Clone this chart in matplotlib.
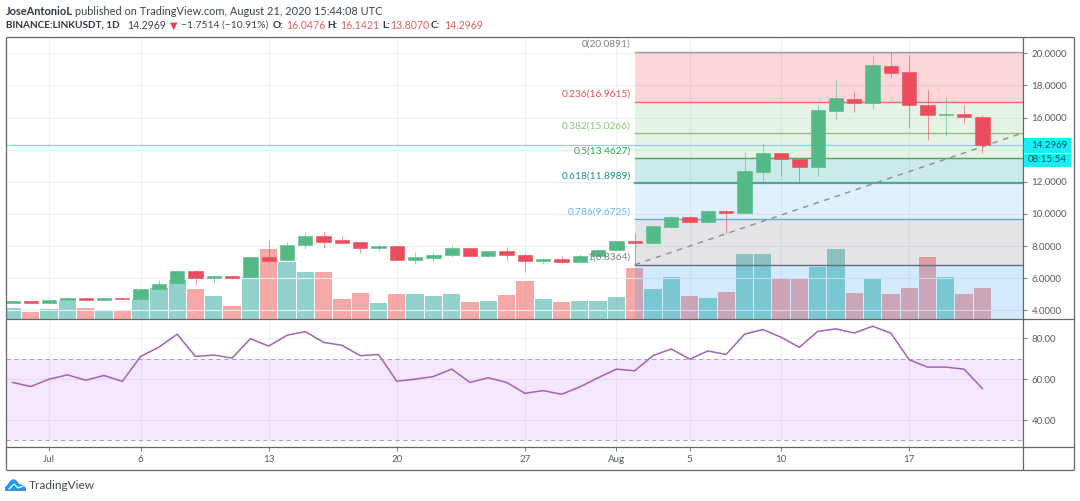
import numpy as np
from matplotlib import pyplot as plt
from matplotlib.patches import Polygon, Rectangle

WIDTH, HEIGHT = 1080, 501

opens = [4.48, 4.56, 4.48, 4.65, 4.77, 4.65, 4.77, 4.69, 5.33, 5.68, 6.47, 6.00, 6.14, 6.06, 7.30, 7.12, 8.07, 8.61,
         8.36, 8.26, 7.90, 8.03, 7.16, 7.28, 7.43, 7.88, 7.39, 7.68, 7.45, 7.05, 7.20, 6.99, 7.39, 7.74, 8.30, 8.22,
         9.21, 9.81, 9.48, 10.19, 10.06, 12.63, 13.78, 13.44, 12.95, 16.43, 17.16, 16.93, 19.21, 18.82, 16.76, 16.18,
         16.20, 16.0476]
closes = [4.56, 4.48, 4.67, 4.77, 4.67, 4.77, 4.68, 5.35, 5.66, 6.45, 6.00, 6.12, 6.04, 7.30, 7.10, 8.09, 8.61, 8.28,
          8.22, 7.90, 8.03, 7.16, 7.30, 7.47, 7.88, 7.39, 7.68, 7.43, 7.05, 7.20, 6.99, 7.39, 7.76, 8.30, 8.19, 9.25,
          9.81, 9.48, 10.19, 10.06, 12.66, 13.78, 13.44, 12.95, 16.47, 17.20, 16.93, 19.27, 18.80, 16.80, 16.16, 16.22,
          16.05, 14.2969]
highs = [4.58, 4.58, 4.73, 4.83, 4.80, 4.79, 4.79, 5.38, 5.87, 6.54, 6.52, 6.18, 6.22, 7.32, 8.38, 8.28, 8.88, 8.88,
         8.63, 8.28, 8.13, 8.07, 7.66, 7.61, 8.07, 7.90, 7.72, 7.93, 7.55, 7.26, 7.39, 7.49, 7.80, 8.34, 8.84, 9.29,
         9.87, 9.87, 10.25, 10.25, 13.88, 14.40, 13.80, 13.46, 16.78, 18.34, 17.66, 19.83, 20.0891, 19.90, 17.72, 17.30,
         16.78, 16.1421]
lows = [4.46, 4.46, 4.46, 4.63, 4.65, 4.63, 4.66, 4.65, 5.31, 5.66, 5.58, 5.64, 5.93, 6.04, 7.03, 7.10, 7.80, 7.90,
        8.20, 7.55, 7.72, 7.14, 6.89, 7.03, 7.34, 7.37, 7.35, 7.05, 6.39, 6.89, 6.97, 6.97, 7.35, 7.70, 6.8364, 8.18,
        9.11, 9.42, 9.42, 8.80, 10.00, 11.87, 12.39, 12.05, 12.39, 15.89, 16.33, 16.51, 18.44, 15.37, 14.61, 14.88,
        15.64, 13.807]
# volume has no scale in the picture, so these are relative heights
volume = [11.3, 7.3, 10, 17.7, 10.7, 7.7, 9, 19.7, 31, 39, 29.7, 23, 12.7, 41.7, 70, 57.3, 47.3, 47.3,
          20, 26, 16, 25.3, 25.3, 23, 25.3, 17, 17.7, 24.3, 38, 20, 17, 17.7, 17.7, 22, 51.3, 29.7,
          42, 23, 21, 27, 65, 65, 41.3, 40.3, 52.3, 70, 26, 41.3, 25, 31, 62, 42, 25, 31]
volume_up = [1, 0, 1, 1, 0, 1, 0, 1, 1, 1, 0, 1, 0, 1, 0, 1, 1, 0,
             0, 0, 1, 0, 1, 1, 1, 0, 1, 0, 0, 1, 0, 1, 1, 1, 0, 1,
             1, 0, 1, 0, 1, 1, 0, 0, 1, 1, 0, 1, 0, 0, 0, 1, 0, 0]
rsi = [58.4, 56.4, 60, 62.1, 59.5, 61.8, 58.9, 71.1, 75.7, 82, 71.1, 71.8, 70.3, 79.8, 76.2, 81.5, 83.3, 78,
       76.6, 71.5, 72.1, 59, 60, 61.3, 64.9, 58.4, 60.7, 58.4, 53.1, 54.4, 52.6, 56.2, 60.7, 64.9, 64.1, 71.5,
       74.8, 69.8, 73.8, 72.1, 82, 84.3, 80.5, 75.6, 83.4, 84.6, 82.6, 85.9, 82.5, 69.5, 65.9, 65.9, 64.9, 55.4]

date_ticks = [2, 7, 14, 21, 28, 33, 37, 42, 49]
date_labels = ["Jul", "6", "13", "20", "27", "Aug", "5", "10", "17"]
price_ticks = [4, 6, 8, 10, 12, 14, 16, 18, 20]
rsi_ticks = [40, 60, 80]

fib_ratios = ["0", "0.236", "0.382", "0.5", "0.618", "0.786", "1"]
fib_prices = [20.0891, 16.9615, 15.0266, 13.4627, 11.8989, 9.6725, 6.8364]
fib_lines = ["#9b9ba3", "#ef6a6a", "#8fbf80", "#4e9f62", "#4aa6a0", "#64a8e0", "#5d6b80"]
fib_text = ["#808080", "#e05050", "#8cc07c", "#3f9b55", "#1f8f88", "#64b5f6", "#808080"]
fib_fills = ["#f23645", "#81c784", "#81c784", "#009688", "#64b5f6", "#787b86", "#2196f3"]

last_price = 14.2969
trend_end = 15.05
FIB_START = 34

UP = "#53b987"
DOWN = "#eb4d5c"
GRID = "#eef0f3"
TICK = "#555b66"
FONT = "Lato"

# bar 0 sits at x=12.5 px, one bar is 18.3 px
X_LIM = ((5.5 - 12.5) / 18.3, (1023 - 12.5) / 18.3)
idx = np.arange(len(closes))


def px_axes(left, top, right, bottom, **kwargs):
    return fig.add_axes([left / WIDTH, 1 - bottom / HEIGHT, (right - left) / WIDTH, (bottom - top) / HEIGHT], **kwargs)


def style_pane(ax):
    ax.set_xlim(*X_LIM)
    for spine in ax.spines.values():
        spine.set_visible(False)
    ax.yaxis.tick_right()
    ax.tick_params(axis="y", length=3, width=0.7, color="#777777", labelcolor=TICK, labelsize=7, pad=3)
    ax.tick_params(axis="x", length=3, width=0.7, color="#777777", labelcolor=TICK, labelsize=7, pad=2.5)


plt.rcParams["font.family"] = [FONT, "DejaVu Sans"]
fig = plt.figure(figsize=(WIDTH / 100, HEIGHT / 100), dpi=100)

# volume goes underneath so the fib fills tint it
ax_vol = px_axes(5.5, 37, 1023, 319, zorder=1)
style_pane(ax_vol)
ax_vol.set_ylim(0, 282)
ax_vol.set_xticks(date_ticks, labels=[])
ax_vol.tick_params(axis="x", length=0)
ax_vol.set_yticks([])
ax_vol.bar(idx, volume, width=0.94, zorder=3, linewidth=0,
           color=["#26a69a" if up else "#ef5350" for up in volume_up], alpha=0.5)
ax_vol.grid(axis="x", color=GRID, linewidth=0.8, zorder=0)

ax_price = px_axes(5.5, 37, 1023, 319, zorder=2)
style_pane(ax_price)
ax_price.patch.set_visible(False)
ax_price.set_ylim(3.46, 21.02)
ax_price.set_xticks([])
# the 14 label is hidden behind the last price box in the reference
ax_price.set_yticks(price_ticks, labels=[f"{p:.4f}" if p != 14 else "" for p in price_ticks])
ax_price.grid(axis="y", color=GRID, linewidth=0.8, zorder=0)
ax_price.set_axisbelow(True)

# fib retracement zones, the last one runs down to the pane bottom
zone_edges = fib_prices + [ax_price.get_ylim()[0]]
for i, fill in enumerate(fib_fills):
    ax_price.add_patch(Rectangle((FIB_START, zone_edges[i + 1]), X_LIM[1] - FIB_START, zone_edges[i] - zone_edges[i + 1],
                                 facecolor=fill, alpha=0.2, linewidth=0, zorder=1))
for ratio, price, line, text in zip(fib_ratios, fib_prices, fib_lines, fib_text):
    lw = 1.6 if ratio == "0.618" else 1.0
    ax_price.plot([FIB_START, X_LIM[1]], [price, price], color=line, linewidth=lw, zorder=2)
    ax_price.annotate(f"{ratio}({price:.4f})", (FIB_START, price), xytext=(-3, 5.5), textcoords="offset points",
                      ha="right", va="center", color=text, fontsize=7.3, zorder=6)

ax_price.plot([FIB_START, X_LIM[1]], [fib_prices[-1], trend_end], color="#8a8d94", linewidth=1, linestyle=(0, (4, 4)), zorder=3)
ax_price.axhline(last_price, color="#5fe6e6", linewidth=0.9, zorder=3)

# candles
colors = [UP if c >= o else DOWN for o, c in zip(opens, closes)]
ax_price.vlines(idx, lows, highs, colors=colors, linewidth=0.6, alpha=0.7, zorder=4)
ax_price.bar(idx, np.array(closes) - np.array(opens), bottom=opens, width=0.78, color=colors,
             edgecolor=colors, linewidth=0.4, zorder=5)

ax_rsi = px_axes(5.5, 319, 1023, 447, zorder=1)
style_pane(ax_rsi)
ax_rsi.set_ylim(26.8, 89.45)
ax_rsi.set_xticks(date_ticks, labels=date_labels)
ax_rsi.set_yticks(rsi_ticks, labels=[f"{r:.2f}" for r in rsi_ticks])
ax_rsi.grid(color=GRID, linewidth=0.8, zorder=0)
ax_rsi.set_axisbelow(True)
ax_rsi.axhspan(30, 70, facecolor="#9915ff", alpha=0.1, linewidth=0, zorder=1)
for level in (30, 70):
    ax_rsi.axhline(level, color="#a8a8b0", linewidth=0.8, linestyle=(0, (4, 3)), zorder=2)
ax_rsi.plot(idx, rsi, color="#a262b8", linewidth=1.1, zorder=3)

# overlay in pixel coordinates for the frame, header, price box and logo
ax_px = fig.add_axes([0, 0, 1, 1], zorder=5)
ax_px.set_xlim(0, WIDTH)
ax_px.set_ylim(HEIGHT, 0)
ax_px.axis("off")

for x0, y0, x1, y1 in [(5.5, 37, 1074, 37), (5.5, 470, 1074, 470), (5.5, 37, 5.5, 470), (1074, 37, 1074, 470),
                       (1023, 37, 1023, 470), (5.5, 319, 1074, 319), (5.5, 447, 1074, 447)]:
    ax_px.plot([x0, x1], [y0, y1], color="#666666", linewidth=0.9, solid_capstyle="butt")

ax_px.add_patch(Rectangle((1023.5, 138), 47.5, 29, facecolor="#14f0f5", linewidth=0, zorder=3))
ax_px.plot([1023.5, 1071], [152.5, 152.5], color="#c8fbfb", linewidth=0.7, zorder=4)
ax_px.text(1031.5, 145.3, f"{last_price:.4f}", color="#10515a", fontsize=7, va="center", zorder=5)
ax_px.text(1027.5, 160, "08:15:54", color="#10515a", fontsize=7, va="center", zorder=5)

HEAD = 7.9
DARK = "#3d4350"
SOFT = "#e0605f"
ax_px.text(6, 11, "JoseAntonioL", color="#303540", fontsize=7.9, fontweight="bold", va="center")
ax_px.text(75, 11, "published on TradingView.com, August 21, 2020 15:44:08 UTC", color=DARK, fontsize=HEAD, va="center")
ax_px.text(6, 25.5, "BINANCE:LINKUSDT, 1D", color="#303540", fontsize=7.2, fontweight="bold", va="center")
ax_px.text(127, 25.5, "14.2969", color=DARK, fontsize=7.6, va="center")
ax_px.text(170, 25.5, "▼", color="#e8424f", fontsize=7, va="center", family="DejaVu Sans")
ax_px.text(181, 25.5, "−1.7514 (−10.91%)", color=DARK, fontsize=7.5, va="center")
for x_label, label, x_value, value in [(273, "O:", 286, "16.0476"), (327, "H:", 340, "16.1421"),
                                       (382, "L:", 390, "13.8070"), (431, "C:", 444, "14.2969")]:
    ax_px.text(x_label, 25.5, label, color="#303540", fontsize=7.2, fontweight="bold", va="center")
    ax_px.text(x_value, 25.5, value, color=SOFT, fontsize=7.6, va="center")

cloud = [(5, 491), (5, 487), (8, 484), (11, 480), (14, 479), (17, 481), (19, 484), (23, 485), (26, 488), (26, 491)]
ax_px.add_patch(Polygon(cloud, closed=True, facecolor="#2a96e8", linewidth=0))
ax_px.plot([9, 14, 18, 23], [489, 484, 488, 486], color="white", linewidth=0.9)
ax_px.text(29, 485.5, "TradingView", color="#444a55", fontsize=8.6, va="center")

fig.savefig("out.png", dpi=100)
